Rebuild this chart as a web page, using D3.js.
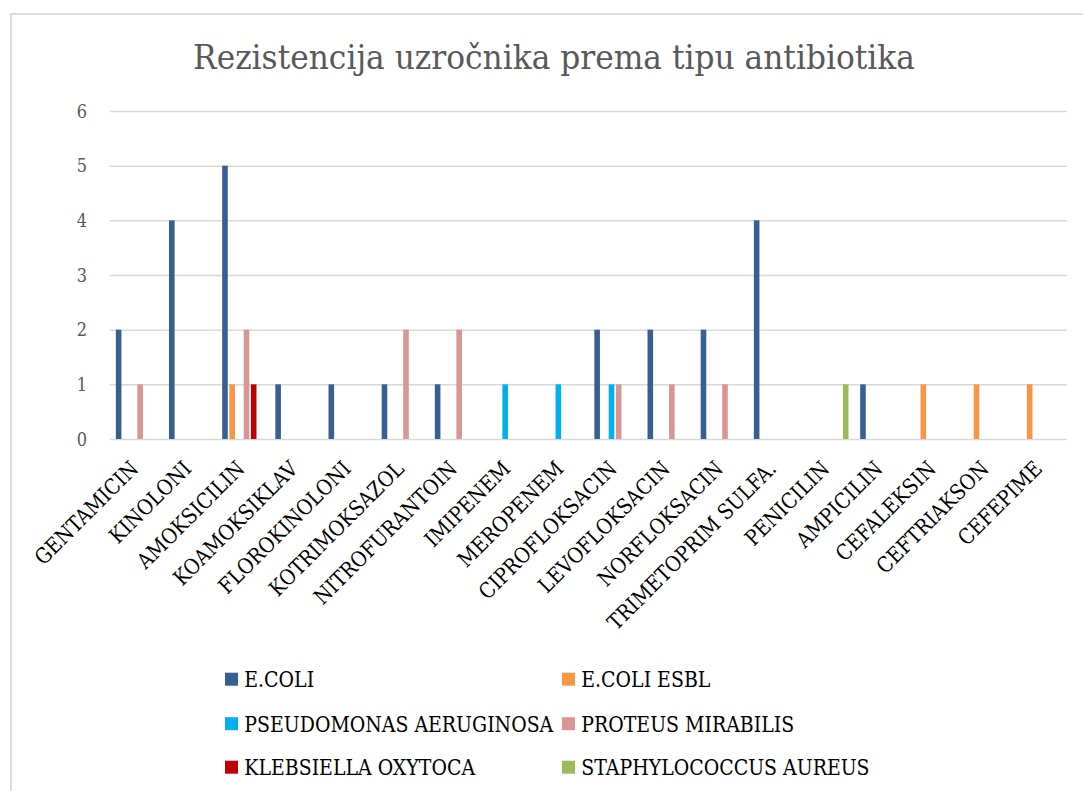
<!DOCTYPE html>
<html>
<head>
<meta charset="utf-8">
<script src="https://cdn.jsdelivr.net/npm/d3@7"></script>
<style>
  html, body { margin: 0; padding: 0; background: #fff; }
  svg { display: block; }
  text { font-family: "DejaVu Serif", "Liberation Serif", serif; }
</style>
</head>
<body>
<svg id="chart" width="1083" height="791"></svg>
<script>
// Antibiotic categories (x axis)
const categories = [
  "GENTAMICIN", "KINOLONI", "AMOKSICILIN", "KOAMOKSIKLAV", "FLOROKINOLONI",
  "KOTRIMOKSAZOL", "NITROFURANTOIN", "IMIPENEM", "MEROPENEM", "CIPROFLOKSACIN",
  "LEVOFLOKSACIN", "NORFLOKSACIN", "TRIMETOPRIM SULFA.", "PENICILIN",
  "AMPICILIN", "CEFALEKSIN", "CEFTRIAKSON", "CEFEPIME"
];

// Organisms (series) and their colours
const seriesNames = [
  "E.COLI", "E.COLI ESBL", "PSEUDOMONAS AERUGINOSA",
  "PROTEUS MIRABILIS", "KLEBSIELLA OXYTOCA", "STAPHYLOCOCCUS AUREUS"
];
const seriesColors = ["#376092", "#F79646", "#00B0F0", "#D99694", "#C00000", "#9BBB59"];

// Resistant isolate counts per antibiotic, one array per organism
const eColi          = [2, 4, 5, 1, 1, 1, 1, 0, 0, 2, 2, 2, 4, 0, 1, 0, 0, 0];
const eColiEsbl      = [0, 0, 1, 0, 0, 0, 0, 0, 0, 0, 0, 0, 0, 0, 0, 1, 1, 1];
const pseudomonas    = [0, 0, 0, 0, 0, 0, 0, 1, 1, 1, 0, 0, 0, 0, 0, 0, 0, 0];
const proteus        = [1, 0, 2, 0, 0, 2, 2, 0, 0, 1, 1, 1, 0, 0, 0, 0, 0, 0];
const klebsiella     = [0, 0, 1, 0, 0, 0, 0, 0, 0, 0, 0, 0, 0, 0, 0, 0, 0, 0];
const staphylococcus = [0, 0, 0, 0, 0, 0, 0, 0, 0, 0, 0, 0, 0, 1, 0, 0, 0, 0];

const yTicks = [0, 1, 2, 3, 4, 5, 6];

const seriesValues = [eColi, eColiEsbl, pseudomonas, proteus, klebsiella, staphylococcus];

const svg = d3.select("#chart");
const plot = { left: 110, right: 1067, top: 111, bottom: 439 };

// Horizontal squeeze so the serif face runs at the intended width
function measure(str, size) {
  const t = svg.append("text").attr("font-size", size).text(str);
  const w = t.node().getComputedTextLength();
  t.remove();
  return w;
}
const labelSize = 21.4;
const sx = 309 / measure("PSEUDOMONAS AERUGINOSA", labelSize);
const titleSize = 34.3;
const titleSx = 722 / measure("Rezistencija uzročnika prema tipu antibiotika", titleSize);

// chart area frame
svg.append("rect")
  .attr("x", 11).attr("y", 14)
  .attr("width", 1100).attr("height", 800)
  .attr("fill", "#fff").attr("stroke", "#d9d9d9").attr("stroke-width", 1.8);

// title
svg.append("text")
  .attr("transform", `translate(554,68.5) scale(${titleSx},1)`)
  .attr("text-anchor", "middle")
  .attr("font-size", titleSize)
  .attr("fill", "#595959")
  .text("Rezistencija uzročnika prema tipu antibiotika");

const x0 = d3.scaleBand()
  .domain(categories)
  .range([plot.left, plot.right])
  .paddingInner(0.19)
  .paddingOuter(0.095);

const x1 = d3.scaleBand()
  .domain(d3.range(seriesNames.length))
  .range([0, x0.bandwidth()])
  .paddingInner(0.22)
  .paddingOuter(0.11);

const y = d3.scaleLinear().domain([0, 6]).range([plot.bottom, plot.top]);

// horizontal gridlines
const yAxis = d3.axisLeft(y).tickValues(yTicks).tickSize(-(plot.right - plot.left)).tickFormat("");
const gGrid = svg.append("g").attr("transform", `translate(${plot.left},0)`).call(yAxis);
gGrid.select(".domain").remove();
gGrid.selectAll(".tick line").attr("stroke", "#d9d9d9").attr("stroke-width", 1.5);

// y tick labels
svg.append("g").selectAll("text")
  .data(yTicks)
  .join("text")
  .attr("transform", d => `translate(87,${y(d) + 6.8}) scale(${sx},1)`)
  .attr("text-anchor", "end")
  .attr("font-size", 18.3)
  .attr("fill", "#595959")
  .text(d => d);

// bars
const groups = svg.append("g").selectAll("g")
  .data(categories)
  .join("g")
  .attr("transform", d => `translate(${x0(d)},0)`);

groups.selectAll("rect")
  .data((d, i) => seriesValues.map((vals, s) => ({ s, v: vals[i] })).filter(o => o.v > 0))
  .join("rect")
  .attr("x", d => x1(d.s))
  .attr("width", x1.bandwidth())
  .attr("y", d => y(d.v))
  .attr("height", d => y(0) - y(d.v))
  .attr("fill", d => seriesColors[d.s]);

// category labels, rotated
svg.append("g").selectAll("text")
  .data(categories)
  .join("text")
  .attr("transform", d => `translate(${x0(d) + x0.bandwidth() / 2 + 3},${plot.bottom + 31}) rotate(-45) scale(${sx},1)`)
  .attr("text-anchor", "end")
  .attr("font-size", labelSize)
  .attr("fill", "#000")
  .text(d => d);

// legend, two columns by three rows
const legendX = [225, 562];
const legendY = [687, 731.5, 775];
const legend = svg.append("g").selectAll("g")
  .data(seriesNames)
  .join("g")
  .attr("transform", (d, i) => `translate(${legendX[i % 2]},${legendY[Math.floor(i / 2)]})`);
legend.append("rect")
  .attr("x", 0).attr("y", -14.3)
  .attr("width", 13).attr("height", 13)
  .attr("fill", (d, i) => seriesColors[i]);
legend.append("text")
  .attr("transform", `translate(19.3,0) scale(${sx},1)`)
  .attr("font-size", labelSize)
  .attr("fill", "#000")
  .text(d => d);
</script>
</body>
</html>
